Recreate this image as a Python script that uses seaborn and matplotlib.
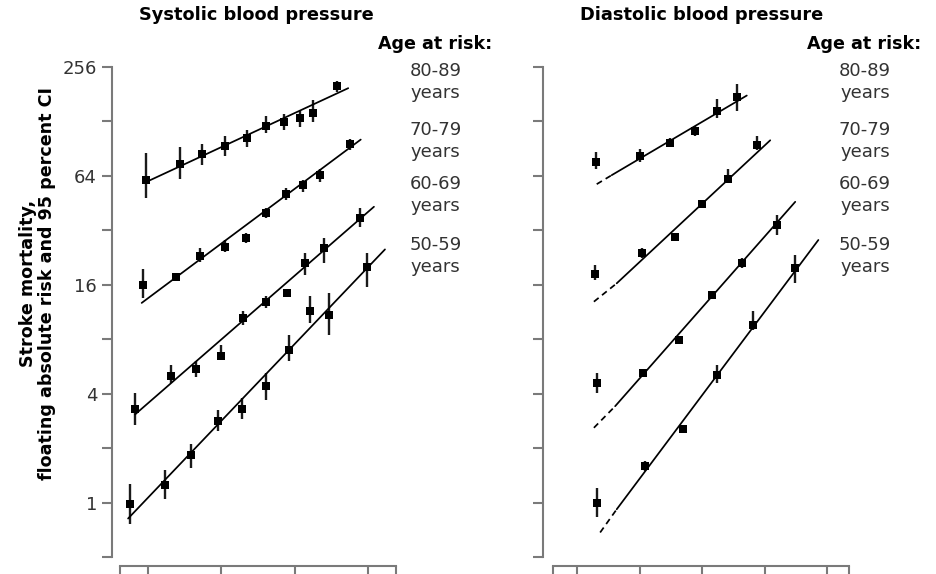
import numpy as np
import pandas as pd
import matplotlib
matplotlib.use("Agg")
import matplotlib.pyplot as plt
import seaborn as sns

# ---------------- data ----------------
age_groups = ["50-59", "60-69", "70-79", "80-89"]

# Systolic blood pressure (mmHg) -> stroke mortality (floating absolute risk)
sys_bp_50 = [115.1, 124.6, 131.8, 139.1, 145.7, 152.0, 158.5, 164.1, 169.3, 179.5]
sys_risk_50 = [0.98, 1.25, 1.83, 2.82, 3.30, 4.39, 7.00, 11.4, 10.9, 20.1]
sys_lo_50 = [0.76, 1.05, 1.56, 2.48, 2.91, 3.71, 6.03, 9.83, 8.47, 15.6]
sys_hi_50 = [1.26, 1.51, 2.12, 3.24, 3.79, 5.21, 8.47, 13.8, 14.4, 23.9]

sys_bp_60 = [116.5, 126.3, 133.1, 139.8, 146.0, 152.2, 157.9, 162.8, 168.0, 177.6]
sys_risk_60 = [3.30, 4.99, 5.48, 6.43, 10.48, 12.9, 14.5, 21.1, 25.5, 37.3]
sys_lo_60 = [2.67, 4.59, 4.95, 6.16, 9.63, 11.9, 14.0, 18.1, 21.1, 33.5]
sys_hi_60 = [4.04, 5.79, 6.03, 7.46, 11.4, 13.9, 15.0, 23.9, 28.9, 42.3]

sys_bp_70 = [118.6, 127.6, 134.1, 140.9, 146.8, 152.2, 157.6, 162.1, 166.7, 175.0]
sys_risk_70 = [16.0, 17.6, 23.1, 26.0, 28.9, 39.7, 50.7, 56.9, 64.6, 95.7]
sys_lo_70 = [13.5, 17.0, 21.5, 24.4, 27.1, 37.3, 47.0, 52.3, 59.3, 88.8]
sys_hi_70 = [19.5, 18.2, 25.5, 28.3, 30.8, 42.3, 54.6, 60.6, 70.3, 103.0]

sys_bp_80 = [119.6, 128.7, 134.6, 141.1, 146.9, 152.0, 156.9, 161.4, 164.8, 171.5]
sys_risk_80 = [61.1, 74.9, 85.0, 93.7, 103.8, 120.3, 127.0, 134.0, 142.0, 200.0]
sys_lo_80 = [48.6, 61.9, 73.3, 82.0, 92.5, 110.0, 114.5, 119.0, 127.0, 186.0]
sys_hi_80 = [85.7, 92.5, 96.5, 106.0, 114.5, 138.0, 141.0, 147.0, 168.0, 215.0]

# fitted lines, systolic: start / end (bp, risk)
sys_fit_start_bp = [114.6, 116.5, 118.3, 119.6]
sys_fit_start_risk = [0.816, 3.07, 12.7, 59.3]
sys_fit_end_bp = [184.5, 181.5, 177.9, 174.5]
sys_fit_end_risk = [25.1, 43.2, 101.6, 195.5]

# Diastolic blood pressure (mmHg)
dia_bp_50 = [73.15, 80.9, 87.0, 92.45, 98.1, 104.9]
dia_risk_50 = [0.99, 1.59, 2.56, 5.10, 9.61, 19.7]
dia_lo_50 = [0.83, 1.50, 2.45, 4.59, 9.02, 16.3]
dia_hi_50 = [1.21, 1.70, 2.70, 5.79, 11.4, 23.4]

dia_bp_60 = [73.15, 80.6, 86.3, 91.55, 96.35, 101.95]
dia_risk_60 = [4.59, 5.21, 7.95, 14.1, 21.0, 34.2]
dia_lo_60 = [4.04, 4.95, 7.60, 13.5, 19.7, 30.1]
dia_hi_60 = [5.21, 5.50, 8.30, 14.8, 22.5, 38.9]

dia_bp_70 = [72.9, 80.35, 85.7, 90.05, 94.1, 98.85]
dia_risk_70 = [18.4, 23.9, 29.3, 44.7, 61.9, 94.5]
dia_lo_70 = [17.0, 22.6, 28.2, 43.0, 58.1, 88.8]
dia_hi_70 = [20.6, 25.5, 30.5, 46.5, 70.3, 107.0]

dia_bp_80 = [73.0, 80.1, 84.9, 88.9, 92.35, 95.55]
dia_risk_80 = [75.9, 82.2, 97.8, 113.0, 147.0, 174.6]
dia_lo_80 = [70.3, 76.6, 92.0, 106.0, 133.0, 147.0]
dia_hi_80 = [86.8, 90.5, 104.0, 121.0, 171.0, 207.0]

# fitted lines, diastolic: dashed start, solid start, end
dia_dash_start_bp = [73.7, 72.7, 72.7, 73.15]
dia_dash_start_risk = [0.683, 2.59, 12.9, 57.6]
dia_fit_start_bp = [76.35, 76.1, 76.35, 75.55]
dia_fit_start_risk = [0.918, 3.41, 16.3, 64.6]
dia_fit_end_bp = [108.6, 104.9, 100.9, 97.15]
dia_fit_end_risk = [28.3, 46.0, 100.7, 178.0]

y_ticks = [0.5, 1, 2, 4, 8, 16, 32, 64, 128, 256]
y_tick_labels = ["", "1", "", "4", "", "16", "", "64", "", "256"]
sys_x_ticks = [112.4, 120, 140, 160, 180, 187.5]
dia_x_ticks = [66.16, 70, 80, 90, 100, 110, 113.5]

titles = ["Systolic blood pressure", "Diastolic blood pressure"]
ylabel = "Stroke mortality,\nfloating absolute risk and 95 percent CI"

# ---------------- figure ----------------
sns.set_theme(style="ticks")
plt.rcParams["font.family"] = ["DejaVu Sans"]

W, H = 936, 574
fig = plt.figure(figsize=(W / 100, H / 100), dpi=100)
fig.patch.set_facecolor("white")


def fx(px):
    return px / W


def fy(py):
    return 1 - py / H


ax1 = fig.add_axes([fx(120), fy(557), 276 / W, 490 / H])
ax2 = fig.add_axes([fx(553), fy(557), 296 / W, 490 / H])

AXC = "#7a7a7a"
TXC = "#333333"

sys_sets = [
    (sys_bp_50, sys_risk_50, sys_lo_50, sys_hi_50),
    (sys_bp_60, sys_risk_60, sys_lo_60, sys_hi_60),
    (sys_bp_70, sys_risk_70, sys_lo_70, sys_hi_70),
    (sys_bp_80, sys_risk_80, sys_lo_80, sys_hi_80),
]
dia_sets = [
    (dia_bp_50, dia_risk_50, dia_lo_50, dia_hi_50),
    (dia_bp_60, dia_risk_60, dia_lo_60, dia_hi_60),
    (dia_bp_70, dia_risk_70, dia_lo_70, dia_hi_70),
    (dia_bp_80, dia_risk_80, dia_lo_80, dia_hi_80),
]

for ax in (ax1, ax2):
    ax.set_yscale("log", base=2)

MS = 34
# systolic panel
for i, (bp, risk, lo, hi) in enumerate(sys_sets):
    df = pd.DataFrame({"bp": bp, "risk": risk, "lo": lo, "hi": hi})
    ax1.vlines(df["bp"], df["lo"], df["hi"], color="#1a1a1a", lw=1.7, zorder=2)
    line_df = pd.DataFrame({"bp": [sys_fit_start_bp[i], sys_fit_end_bp[i]],
                            "risk": [sys_fit_start_risk[i], sys_fit_end_risk[i]]})
    sns.lineplot(data=line_df, x="bp", y="risk", ax=ax1, color="black",
                 lw=1.25, estimator=None, sort=False, zorder=3)
    sns.scatterplot(data=df, x="bp", y="risk", ax=ax1, marker="s", s=MS,
                    color="black", edgecolor="black", linewidth=0, zorder=4)

# diastolic panel
for i, (bp, risk, lo, hi) in enumerate(dia_sets):
    df = pd.DataFrame({"bp": bp, "risk": risk, "lo": lo, "hi": hi})
    ax2.vlines(df["bp"], df["lo"], df["hi"], color="#1a1a1a", lw=1.7, zorder=2)
    dash_df = pd.DataFrame({"bp": [dia_dash_start_bp[i], dia_fit_start_bp[i]],
                            "risk": [dia_dash_start_risk[i], dia_fit_start_risk[i]]})
    sns.lineplot(data=dash_df, x="bp", y="risk", ax=ax2, color="black",
                 lw=1.25, estimator=None, sort=False, zorder=3,
                 linestyle=(0, (3.5, 2.5)))
    line_df = pd.DataFrame({"bp": [dia_fit_start_bp[i], dia_fit_end_bp[i]],
                            "risk": [dia_fit_start_risk[i], dia_fit_end_risk[i]]})
    sns.lineplot(data=line_df, x="bp", y="risk", ax=ax2, color="black",
                 lw=1.25, estimator=None, sort=False, zorder=3)
    sns.scatterplot(data=df, x="bp", y="risk", ax=ax2, marker="s", s=MS,
                    color="black", edgecolor="black", linewidth=0, zorder=4)

# axes styling
for ax, xt, yoff in ((ax1, sys_x_ticks, 5.8), (ax2, dia_x_ticks, 7.4)):
    ax.set_ylim(0.5, 256)
    ax.set_xlim(xt[0], xt[-1])
    ax.set_xticks(xt)
    ax.set_xticklabels([""] * len(xt))
    ax.set_yticks(y_ticks)
    ax.yaxis.set_minor_locator(matplotlib.ticker.NullLocator())
    ax.set_xlabel("")
    ax.set_ylabel("")
    for s in ("top", "right"):
        ax.spines[s].set_visible(False)
    ax.spines["left"].set_position(("outward", yoff))
    ax.spines["bottom"].set_position(("outward", 6.5))
    for s in ("left", "bottom"):
        ax.spines[s].set_color(AXC)
        ax.spines[s].set_linewidth(1.5)
    ax.tick_params(axis="both", which="major", length=7.2, width=1.5,
                   color=AXC, labelcolor=TXC, labelsize=13, pad=3.5)
    ax.set_facecolor("white")
    ax.grid(False)

ax1.set_yticklabels(y_tick_labels)
ax2.set_yticklabels([""] * len(y_ticks))

# titles
fig.text(fx(256), fy(15), titles[0], ha="center", va="center",
         fontsize=12.8, fontweight="bold", color="black")
fig.text(fx(702), fy(15), titles[1], ha="center", va="center",
         fontsize=12.8, fontweight="bold", color="black")

# age-at-risk annotations
for x_left, x_center in ((378, 435.5), (807, 865)):
    fig.text(fx(x_left), fy(44), "Age at risk:", ha="left", va="center",
             fontsize=12.6, fontweight="bold", color="black")
    for grp, yc in zip(["80-89", "70-79", "60-69", "50-59"], [71, 130, 184, 245]):
        fig.text(fx(x_center), fy(yc), grp, ha="center", va="center",
                 fontsize=13, color=TXC)
        fig.text(fx(x_center), fy(yc + 22), "years", ha="center", va="center",
                 fontsize=13, color=TXC)

# y label
fig.text(fx(37.5), fy(283), ylabel, ha="center", va="center", rotation=90,
         multialignment="center", fontsize=12.6, fontweight="bold",
         color="black", linespacing=1.1)

fig.savefig("out.png", dpi=100, facecolor="white")
